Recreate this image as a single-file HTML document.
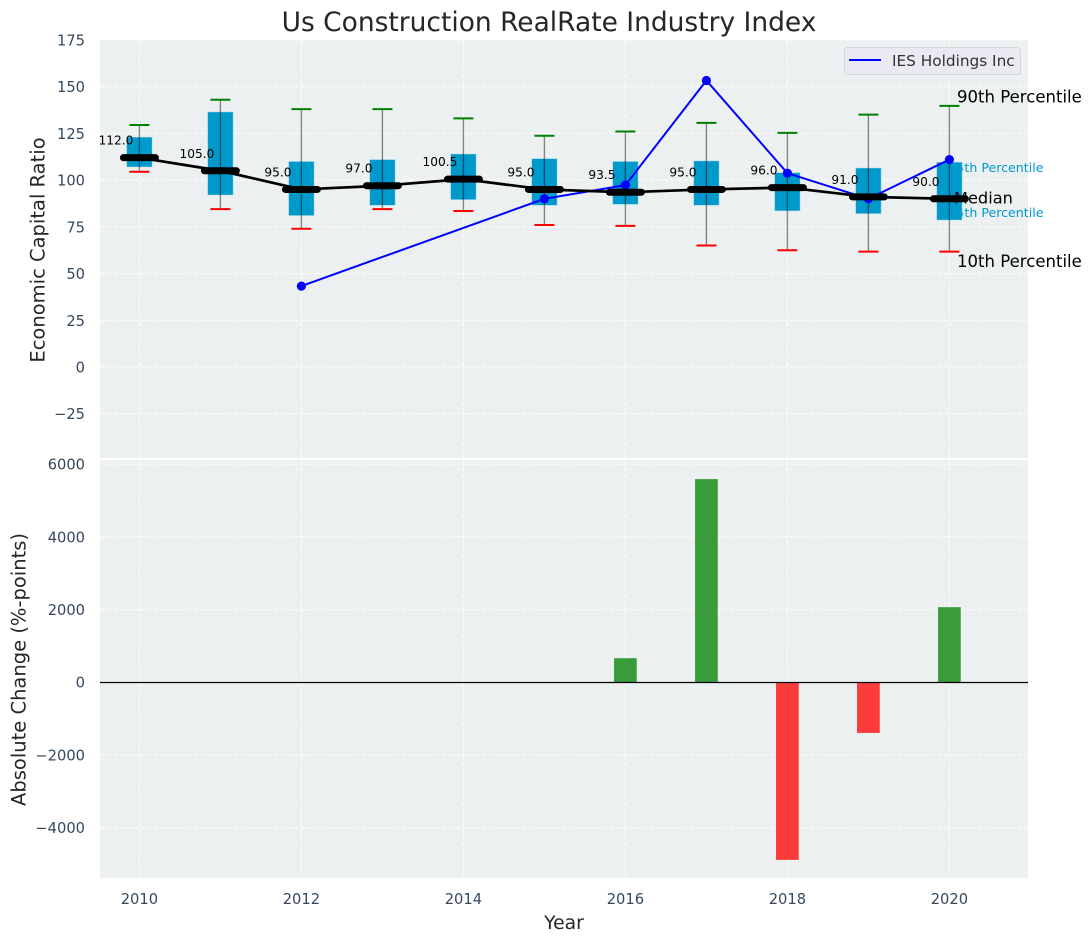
<!DOCTYPE html>
<html>
<head>
<meta charset="utf-8">
<style>
html,body{margin:0;padding:0;background:#fff;}
svg{display:block;font-family:"DejaVu Sans","Liberation Sans",sans-serif;}
.tick{font-size:14.67px;fill:#34495e;}
.axl{font-size:19.5px;fill:#262626;}
</style>
</head>
<body>
<svg id="chart" width="1092" height="942" viewBox="0 0 1092 942" xmlns="http://www.w3.org/2000/svg">
  <text x="549" y="31" text-anchor="middle" font-size="26.47" fill="#262626">Us Construction RealRate Industry Index</text>
  <rect x="100" y="40" width="928" height="418" fill="#ecf0f1"/>
  <rect x="100" y="460" width="928" height="418" fill="#ecf0f1"/>
  <g id="grid"></g>
  <g id="ticks"></g>
  <text class="axl" transform="translate(44.5,250) rotate(-90)" text-anchor="middle">Economic Capital Ratio</text>
  <text class="axl" transform="translate(25.5,669.5) rotate(-90)" text-anchor="middle">Absolute Change (%-points)</text>
  <text class="axl" style="font-size:18.8px" x="564" y="929" text-anchor="middle">Year</text>
  <g id="underlabels"></g>
  <g id="boxes"></g>
  <g id="company"></g>
  <g id="medians"></g>
  <g id="bars"></g>
  <line x1="100" x2="1028" y1="682.5" y2="682.5" stroke="#000" stroke-width="1.3"/>
  <g id="overlabels"></g>
  <g>
    <rect x="844.5" y="47.5" width="176" height="27" rx="3" fill="#eaeaf2" stroke="#d5d5dc" stroke-width="1"/>
    <line x1="849" x2="881" y1="60" y2="60" stroke="#0000ff" stroke-width="2"/>
    <text x="892" y="66" font-size="15.3" fill="#333">IES Holdings Inc</text>
  </g>
</svg>
<script>
var years = [2010,2011,2012,2013,2014,2015,2016,2017,2018,2019,2020];
var p90 = [129.5,143,138,138,133,123.7,126,130.6,125.3,135,139.7];
var p75 = [123,136.5,110,111,114,111.5,110,110.3,104,106.5,109.6];
var medians = [112,105,95,97,100.5,95,93.5,95,96,91,90];
var p25 = [107,92,81,86.5,89.5,86.5,87,86.5,83.5,82,78.6];
var p10 = [104.5,84.5,74,84.5,83.5,76,75.5,65,62.5,61.7,61.7];
var companyYears = [2012,2015,2016,2017,2018,2019,2020];
var companyValues = [43.3,90,97.3,153.3,103.7,90,111];
var changeYears = [2016,2017,2018,2019,2020];
var changeValues = [660,5590,-4890,-1395,2065];
var xTickLabels = [2010,2012,2014,2016,2018,2020];
var topTickLabels = [175,150,125,100,75,50,25,0,-25];
var bottomTickLabels = [6000,4000,2000,0,-2000,-4000];

var NS = 'http://www.w3.org/2000/svg';
function X(v){ return 139.4 + (v - 2010) * 81; }
function YT(v){ return 367 - v * 1.869; }
function YB(v){ return 682.2 - v * 0.03633; }
function fmt(v){ return String(v).replace('-', '\u2212'); }
function mk(tag, parent, attrs){
  var el = document.createElementNS(NS, tag);
  for (var k in attrs) el.setAttribute(k, attrs[k]);
  parent.appendChild(el);
  return el;
}
var grid = document.getElementById('grid');
var ticks = document.getElementById('ticks');
var gridStyle = {stroke:'#fff','stroke-width':1.1,'stroke-dasharray':'4.5 2.2','stroke-opacity':0.85};
function gl(x1,y1,x2,y2){
  var a = {x1:x1,y1:y1,x2:x2,y2:y2};
  for (var k in gridStyle) a[k] = gridStyle[k];
  return mk('line', grid, a);
}
xTickLabels.forEach(function(v){
  var a = gl(X(v),40,X(v),458);
  
  
  var b = gl(X(v),460,X(v),878);
  
  
  var t = mk('text', ticks, {x:X(v),y:904,'text-anchor':'middle','class':'tick'});
  t.textContent = v;
  
  
});
topTickLabels.forEach(function(v){
  var a = gl(100,YT(v),1028,YT(v));
  
  
  var t = mk('text', ticks, {x:85,y:YT(v)+5.5,'text-anchor':'end','class':'tick'});
  t.textContent = fmt(v);
  
  
});
bottomTickLabels.forEach(function(v){
  var a = gl(100,YB(v),1028,YB(v));
  
  
  var t = mk('text', ticks, {x:85,y:YB(v)+5.5,'text-anchor':'end','class':'tick'});
  t.textContent = fmt(v);
  
  
});

var last = years.length - 1;
var under = document.getElementById('underlabels');
var q3Label = mk('text', under, {x:X(years[last])-1,y:YT(p75[last])+10,'font-size':12.6,fill:'#0099cc'});
q3Label.textContent = '75th Percentile';


var q1Label = mk('text', under, {x:X(years[last])-1,y:YT(p25[last])-3,'font-size':12.6,fill:'#0099cc'});
q1Label.textContent = '25th Percentile';



var boxes = document.getElementById('boxes');
years.forEach(function(y,i){
  var cx = X(y);
  var w = 0.315 * 81;
  var box = mk('rect', boxes, {x:cx-w/2,y:YT(p75[i]),width:w,height:YT(p25[i])-YT(p75[i]),fill:'#0099cc',stroke:'#cfe6ef','stroke-opacity':0.6,'stroke-width':0.8});
  
  
  var wh = mk('line', boxes, {x1:cx,x2:cx,y1:YT(p90[i]),y2:YT(p10[i]),stroke:'#000','stroke-opacity':0.45,'stroke-width':1.4});
  
  
  var hi = mk('line', boxes, {x1:cx-10,x2:cx+10,y1:YT(p90[i]),y2:YT(p90[i]),stroke:'#008000','stroke-width':2});
  
  
  var lo = mk('line', boxes, {x1:cx-10,x2:cx+10,y1:YT(p10[i]),y2:YT(p10[i]),stroke:'#ff0000','stroke-width':2});
  
  
});

var company = document.getElementById('company');
var cLine = mk('polyline', company, {fill:'none',stroke:'#0000ff','stroke-width':2,
  points:companyYears.map(function(y,i){return X(y)+','+YT(companyValues[i]);}).join(' ')});


companyYears.forEach(function(y,i){
  var c = mk('circle', company, {cx:X(y),cy:YT(companyValues[i]),r:4.6,fill:'#0000ff'});
  
  
});

var med = document.getElementById('medians');
var mLine = mk('polyline', med, {fill:'none',stroke:'#000','stroke-width':2.7,
  points:years.map(function(y,i){return X(y)+','+YT(medians[i]);}).join(' ')});


years.forEach(function(y,i){
  var m = mk('line', med, {x1:X(y)-16,x2:X(y)+16,y1:YT(medians[i]),y2:YT(medians[i]),stroke:'#000','stroke-width':7,'stroke-linecap':'round'});
  
  
  var t = mk('text', med, {x:X(y)-23.5,y:YT(medians[i])-13,'text-anchor':'middle','font-size':12.2,fill:'#000'});
  t.textContent = medians[i].toFixed(1);
  
  
});

var bars = document.getElementById('bars');
changeYears.forEach(function(y,i){
  var v = changeValues[i];
  var w = 0.28 * 81;
  var top = Math.min(YB(0),YB(v));
  var h = Math.abs(YB(v)-YB(0));
  var b = mk('rect', bars, {x:X(y)-w/2,y:top,width:w,height:h,fill:v>=0?'#008000':'#ff0000','fill-opacity':0.76});
  
  
});

var over = document.getElementById('overlabels');
var t90 = mk('text', over, {x:957,y:YT(p90[last])-3.5,'font-size':16.55,fill:'#000'});
t90.textContent = '90th Percentile';


var tMed = mk('text', over, {x:954,y:YT(medians[last])+4.5,'font-size':16.2,fill:'#000'});
tMed.textContent = 'Median';


var t10 = mk('text', over, {x:957,y:YT(p10[last])+15.5,'font-size':16.55,fill:'#000'});
t10.textContent = '10th Percentile';


</script>
</body>
</html>
